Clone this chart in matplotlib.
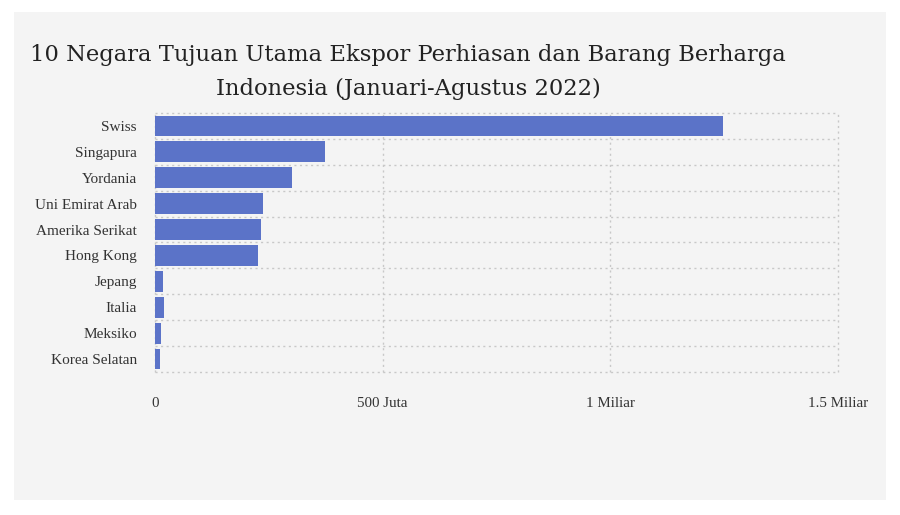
import matplotlib
matplotlib.use("Agg")
import matplotlib.pyplot as plt
from matplotlib.patches import Rectangle
from matplotlib.ticker import FixedLocator, FixedFormatter

countries = ["Swiss", "Singapura", "Yordania", "Uni Emirat Arab", "Amerika Serikat",
             "Hong Kong", "Jepang", "Italia", "Meksiko", "Korea Selatan"]
values = [1.247e9, 0.373e9, 0.301e9, 0.237e9, 0.233e9, 0.226e9, 0.018e9, 0.019e9, 0.013e9, 0.011e9]
xticks = [0, 0.5e9, 1.0e9, 1.5e9]
xticklabels = ["0", "500 Juta", "1 Miliar", "1.5 Miliar"]
title = "10 Negara Tujuan Utama Ekspor Perhiasan dan Barang Berharga\nIndonesia (Januari-Agustus 2022)"

W, H = 900, 515
fig = plt.figure(figsize=(9, 5.15), dpi=100)
fig.patch.set_facecolor("white")
fig.patches.append(Rectangle((14 / W, 1 - 500 / H), (886 - 14) / W, (500 - 12) / H,
                             transform=fig.transFigure, facecolor="#f4f4f4",
                             edgecolor="none", zorder=-10))

ax = fig.add_axes([155 / W, 1 - 372 / H, (838 - 155) / W, (372 - 113) / H])
ax.set_zorder(2)
ax.set_facecolor("none")
n = len(countries)
ypos = list(range(n))
ax.barh(ypos, values, height=0.8, color="#5b73c8", zorder=3)
ax.set_ylim(n - 0.5, -0.5)
ax.set_xlim(0, 1.5e9)

ax.xaxis.set_major_locator(FixedLocator(xticks))
ax.xaxis.set_major_formatter(FixedFormatter(xticklabels))
ax.set_yticks(ypos)
ax.set_yticklabels(countries)
ax.yaxis.set_minor_locator(FixedLocator([i + 0.5 for i in range(-1, n)]))
ax.tick_params(axis="both", which="both", length=0)
ax.tick_params(axis="y", pad=13, labelsize=11, labelcolor="#333333")
ax.tick_params(axis="x", pad=18, labelsize=10.8, labelcolor="#333333")
for lab in ax.get_xticklabels() + ax.get_yticklabels():
    lab.set_fontfamily("Liberation Serif")

ax.grid(False)
ax.grid(True, axis="x", which="major", linestyle=(0, (1.5, 2.5)), color="#c8c8c8", linewidth=1, zorder=1)
ax.grid(True, axis="y", which="minor", linestyle=(0, (1.5, 2.5)), color="#c8c8c8", linewidth=1, zorder=1)
for t in ax.xaxis.get_major_ticks() + ax.yaxis.get_minor_ticks():
    t.gridline.set_clip_on(False)
for s in ax.spines.values():
    s.set_visible(False)

fig.text(408 / W, 1 - 72 / H, title, ha="center", va="center", fontsize=16.3,
         family="DejaVu Serif", color="#222222", linespacing=1.65)

fig.savefig("out.png", dpi=100, facecolor="white")
